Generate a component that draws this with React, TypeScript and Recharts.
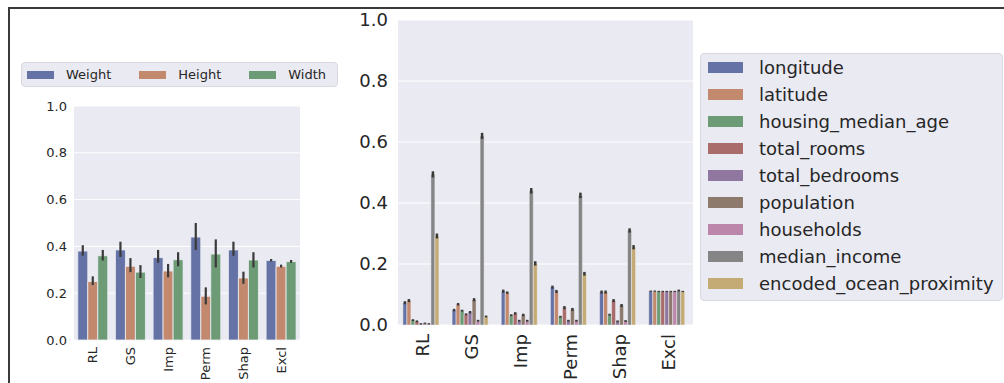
import React from 'react';
import { BarChart, Bar, XAxis, YAxis, CartesianGrid, ErrorBar } from 'recharts';

const categories = ['RL', 'GS', 'Imp', 'Perm', 'Shap', 'Excl'];
const yTicks = [0, 0.2, 0.4, 0.6, 0.8, 1.0];

// left chart: Weight / Height / Width
const weight = [0.38, 0.385, 0.352, 0.44, 0.385, 0.34];
const weightLow = [0.36, 0.355, 0.33, 0.385, 0.36, 0.336];
const weightHigh = [0.405, 0.42, 0.385, 0.5, 0.42, 0.346];
const height = [0.25, 0.315, 0.295, 0.187, 0.265, 0.315];
const heightLow = [0.235, 0.29, 0.268, 0.152, 0.24, 0.31];
const heightHigh = [0.272, 0.35, 0.325, 0.225, 0.292, 0.322];
const width = [0.36, 0.29, 0.343, 0.367, 0.342, 0.335];
const widthLow = [0.34, 0.265, 0.315, 0.31, 0.31, 0.33];
const widthHigh = [0.385, 0.32, 0.375, 0.43, 0.375, 0.342];

// right chart: housing features
const longitude = [0.073, 0.049, 0.111, 0.124, 0.108, 0.111];
const latitude = [0.08, 0.068, 0.106, 0.11, 0.108, 0.111];
const housingMedianAge = [0.016, 0.047, 0.032, 0.027, 0.034, 0.11];
const totalRooms = [0.012, 0.035, 0.038, 0.057, 0.08, 0.11];
const totalBedrooms = [0.004, 0.042, 0.014, 0.014, 0.012, 0.11];
const population = [0.006, 0.083, 0.033, 0.051, 0.064, 0.11];
const households = [0.004, 0.014, 0.014, 0.014, 0.013, 0.11];
const medianIncome = [0.494, 0.62, 0.44, 0.425, 0.31, 0.113];
const oceanProximity = [0.292, 0.028, 0.202, 0.168, 0.255, 0.11];

const longitudeErr = [0.005, 0.004, 0.005, 0.005, 0.005, 0.002];
const latitudeErr = [0.005, 0.004, 0.004, 0.005, 0.005, 0.002];
const housingMedianAgeErr = [0.003, 0.003, 0.003, 0.003, 0.003, 0.002];
const totalRoomsErr = [0.003, 0.003, 0.004, 0.005, 0.005, 0.002];
const totalBedroomsErr = [0.002, 0.004, 0.003, 0.003, 0.003, 0.002];
const populationErr = [0.002, 0.005, 0.004, 0.005, 0.005, 0.002];
const householdsErr = [0.002, 0.003, 0.003, 0.003, 0.003, 0.002];
const medianIncomeErr = [0.01, 0.01, 0.009, 0.009, 0.007, 0.003];
const oceanProximityErr = [0.008, 0.003, 0.007, 0.006, 0.007, 0.002];

const leftSeries = [
  { key: 'Weight', values: weight, low: weightLow, high: weightHigh, color: '#6572a6' },
  { key: 'Height', values: height, low: heightLow, high: heightHigh, color: '#c3896f' },
  { key: 'Width', values: width, low: widthLow, high: widthHigh, color: '#6c9b75' },
];

const rightSeries = [
  { key: 'longitude', values: longitude, err: longitudeErr, color: '#6572a6' },
  { key: 'latitude', values: latitude, err: latitudeErr, color: '#c3896f' },
  { key: 'housing_median_age', values: housingMedianAge, err: housingMedianAgeErr, color: '#6c9b75' },
  { key: 'total_rooms', values: totalRooms, err: totalRoomsErr, color: '#aa6b6b' },
  { key: 'total_bedrooms', values: totalBedrooms, err: totalBedroomsErr, color: '#9077a0' },
  { key: 'population', values: population, err: populationErr, color: '#8d7a6d' },
  { key: 'households', values: households, err: householdsErr, color: '#bb86aa' },
  { key: 'median_income', values: medianIncome, err: medianIncomeErr, color: '#858585' },
  { key: 'encoded_ocean_proximity', values: oceanProximity, err: oceanProximityErr, color: '#c4aa74' },
];

const leftData = categories.map((name, i) => {
  const row: any = { name };
  leftSeries.forEach((s) => {
    row[s.key] = s.values[i];
    row[s.key + 'Err'] = [s.values[i] - s.low[i], s.high[i] - s.values[i]];
  });
  return row;
});

const rightData = categories.map((name, i) => {
  const row: any = { name };
  rightSeries.forEach((s) => {
    row[s.key] = s.values[i];
    row[s.key + 'Err'] = s.err[i];
  });
  return row;
});

const FONT = '"DejaVu Sans", sans-serif';
const TEXT = '#262626';
const BG = '#eaeaf2';

const RotatedTick = ({ x, y, payload, size, offset }: any) => {
  const ty = y + offset;
  return (
    <text
      x={x}
      y={ty}
      transform={`rotate(-90, ${x}, ${ty})`}
      textAnchor="end"
      dominantBaseline="central"
      fontSize={size}
      fontFamily={FONT}
      fill={TEXT}
    >
      {payload.value}
    </text>
  );
};

export default function App() {
  return (
    <div style={{ fontFamily: FONT, color: TEXT }}>
      <div
        style={{
          position: 'absolute',
          left: 8,
          top: 7,
          width: 996,
          height: 376,
          borderTop: '2px solid #3a3a3a',
          borderLeft: '2px solid #3a3a3a',
        }}
      />

      {/* left legend */}
      <div
        style={{
          position: 'absolute',
          left: 21,
          top: 62,
          width: 317,
          height: 25,
          background: BG,
          border: '1px solid #d8d8e0',
          borderRadius: 4,
          display: 'flex',
          alignItems: 'center',
          fontSize: 13,
          boxSizing: 'border-box',
        }}
      >
        {leftSeries.map((s, i) => (
          <div key={s.key} style={{ display: 'flex', alignItems: 'center', marginLeft: i === 0 ? 5 : 28 }}>
            <span style={{ display: 'inline-block', width: 27, height: 8, background: s.color, marginRight: 12 }} />
            <span>{s.key}</span>
          </div>
        ))}
      </div>

      <div style={{ position: 'absolute', left: 0, top: 0 }}>
        <BarChart
          width={320}
          height={383}
          data={leftData}
          margin={{ top: 106, right: 20, left: 34, bottom: 3 }}
          barCategoryGap="10%"
          barGap={0}
        >
          <CartesianGrid vertical={false} stroke="#ffffff" fill={BG} strokeWidth={1} />
          <XAxis
            dataKey="name"
            axisLine={false}
            tickLine={false}
            height={40}
            interval={0}
            tick={<RotatedTick size={13} offset={-1} />}
          />
          <YAxis
            domain={[0, 1]}
            ticks={yTicks}
            width={40}
            axisLine={false}
            tickLine={false}
            tickSize={0}
            tickMargin={7}
            tickFormatter={(v: number) => v.toFixed(1)}
            tick={{ fontSize: 13, fill: TEXT, fontFamily: FONT }}
          />
          {leftSeries.map((s) => (
            <Bar key={s.key} dataKey={s.key} fill={s.color} stroke="#eef0f5" strokeWidth={0.8} isAnimationActive={false}>
              <ErrorBar dataKey={s.key + 'Err'} width={0} stroke="#3a3a3a" strokeWidth={2.2} direction="y" isAnimationActive={false} />
            </Bar>
          ))}
        </BarChart>
      </div>

      <div style={{ position: 'absolute', left: 340, top: 0 }}>
        <BarChart
          width={360}
          height={383}
          data={rightData}
          margin={{ top: 20, right: 7, left: 10, bottom: 3 }}
          barCategoryGap="10%"
          barGap={0}
        >
          <CartesianGrid vertical={false} stroke="#ffffff" fill={BG} strokeWidth={1.2} />
          <XAxis
            dataKey="name"
            axisLine={false}
            tickLine={false}
            height={55}
            interval={0}
            tick={<RotatedTick size={18} offset={1} />}
          />
          <YAxis
            domain={[0, 1]}
            ticks={yTicks}
            width={48}
            axisLine={false}
            tickLine={false}
            tickSize={0}
            tickMargin={10}
            tickFormatter={(v: number) => v.toFixed(1)}
            tick={{ fontSize: 18, fill: TEXT, fontFamily: FONT }}
          />
          {rightSeries.map((s) => (
            <Bar key={s.key} dataKey={s.key} fill={s.color} stroke="#eef0f5" strokeWidth={0.5} isAnimationActive={false}>
              <ErrorBar dataKey={s.key + 'Err'} width={0} stroke="#3a3a3a" strokeWidth={2.5} direction="y" isAnimationActive={false} />
            </Bar>
          ))}
        </BarChart>
      </div>

      {/* right legend */}
      <div
        style={{
          position: 'absolute',
          left: 700,
          top: 53,
          width: 303,
          height: 248,
          background: BG,
          border: '1px solid #d8d8e0',
          borderRadius: 4,
          boxSizing: 'border-box',
          fontSize: 18,
        }}
      >
        {rightSeries.map((s) => (
          <div key={s.key} style={{ display: 'flex', alignItems: 'center', height: 27 }}>
            <span style={{ display: 'inline-block', width: 35, height: 11, background: s.color, marginLeft: 7, marginRight: 16 }} />
            <span>{s.key}</span>
          </div>
        ))}
      </div>
    </div>
  );
}
